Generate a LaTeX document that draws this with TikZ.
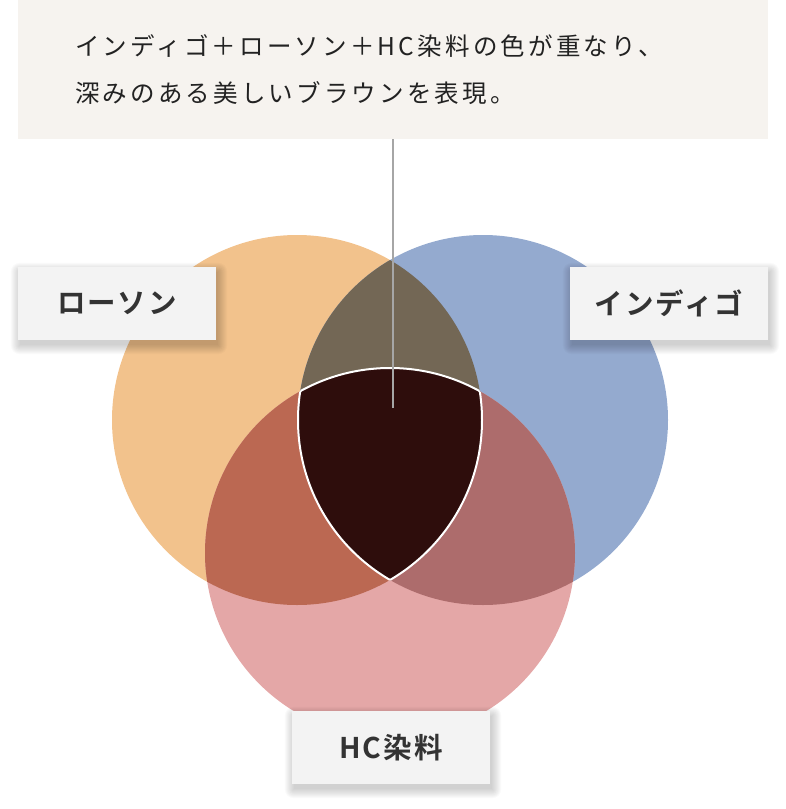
\documentclass[tikz,border=0pt]{standalone}
\usepackage{fontspec}
\newfontfamily\titlefont[LetterSpace=13]{Noto Sans CJK JP}
\newfontfamily\labelfont[LetterSpace=7]{Noto Sans CJK JP Bold}
\definecolor{titlebg}{HTML}{F6F3EF}
\definecolor{titletxt}{HTML}{222222}
\definecolor{labelbg}{HTML}{F3F3F3}
\definecolor{labeltxt}{HTML}{333333}
\definecolor{corange}{HTML}{F2C28C}
\definecolor{cblue}{HTML}{94AACF}
\definecolor{cpink}{HTML}{E4A7A7}
\definecolor{cob}{HTML}{736755}
\definecolor{cop}{HTML}{BB6852}
\definecolor{cbp}{HTML}{AD6C6C}
\definecolor{cobp}{HTML}{2E0D0C}
\definecolor{linegray}{HTML}{A6A6A6}
\pgfdeclarelayer{bottom}
\pgfdeclarelayer{shade}
\pgfsetlayers{bottom,shade,main}
\tikzset{
  labelbox/.style={fill=labelbg, minimum width=198pt, minimum height=73pt,
    inner sep=0pt, text=labeltxt, font=\labelfont\fontsize{28.5}{34}\selectfont},
  titlebox/.style={fill=titlebg, minimum width=750pt, minimum height=139pt,
    text width=636pt, inner xsep=57pt, inner ysep=0pt, align=left, text=titletxt,
    font=\titlefont\fontsize{24.5}{47.5}\selectfont},
  pointer/.style={draw=linegray, line width=1.5pt},
  rim/.style={draw=white, line width=2pt},
  shadelayer/.style={fill=black, fill opacity=0.018}
}
\newcommand\softshade[1]{%
  \begin{pgfonlayer}{shade}
  \foreach \i in {0,1,...,9}{%
    \fill[shadelayer, rounded corners=\i pt]
      ([xshift=-\i pt+2pt, yshift=\i pt-5pt]#1.north west) rectangle
      ([xshift=\i pt+2pt, yshift=-\i pt-5pt]#1.south east);
  }%
  \end{pgfonlayer}}
\begin{document}
\begin{tikzpicture}[x=1pt,y=-1pt]
\useasboundingbox (0,0) rectangle (786,809);
% circles
\def\Ocirc{(297,420) circle[radius=185]}
\def\Bcirc{(483,420) circle[radius=185]}
\def\Pcirc{(390,553) circle[radius=185]}
\begin{pgfonlayer}{bottom}
\fill[corange] \Ocirc;
\fill[cblue] \Bcirc;
\fill[cpink] \Pcirc;
\begin{scope}\clip \Ocirc; \fill[cob] \Bcirc;\end{scope}
\begin{scope}\clip \Ocirc; \fill[cop] \Pcirc;\end{scope}
\begin{scope}\clip \Bcirc; \fill[cbp] \Pcirc;\end{scope}
\begin{scope}\clip \Ocirc; \clip \Bcirc; \fill[cobp] \Pcirc;\end{scope}
% white rim of the centre
\begin{scope}\clip \Bcirc; \clip \Pcirc; \draw[rim] \Ocirc;\end{scope}
\begin{scope}\clip \Ocirc; \clip \Pcirc; \draw[rim] \Bcirc;\end{scope}
\begin{scope}\clip \Ocirc; \clip \Bcirc; \draw[rim] \Pcirc;\end{scope}
\end{pgfonlayer}
% title
\node[titlebox] (title) at (393,69.5) {インディゴ＋ローソン＋HC染料の色が重なり、\\深みのある美しいブラウンを表現。};
\coordinate (lineend) at (393,408);
\draw[pointer] (title.south) -- (lineend);
% labels
\node[labelbox] (lawson) at (117,303.5) {ローソン};
\node[labelbox] (indigo) at (669,303.5) {インディゴ};
\node[labelbox] (hc) at (391,747.5) {HC染料};
\softshade{lawson}
\softshade{indigo}
\softshade{hc}
\end{tikzpicture}
\end{document}
